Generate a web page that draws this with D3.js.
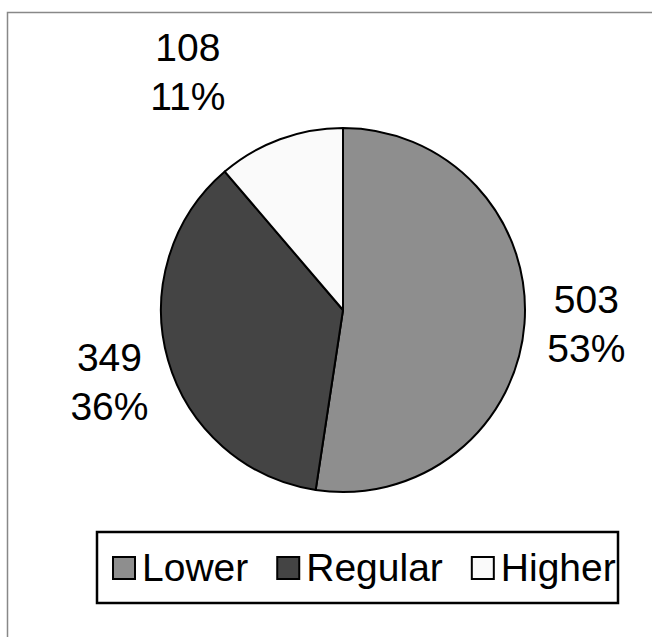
<!DOCTYPE html>
<html lang="en">
<head>
    <meta charset="UTF-8">
    <title>pie</title>
    <style>
        body { margin: 0; background: #fff; }
        svg { display: block; }
        text { font-family: "Liberation Sans", Arial, sans-serif; fill: #000; }
    </style>
    <script src="https://d3js.org/d3.v7.min.js"></script>
</head>
<body>
<script>
    // data
    var categories = ["Lower", "Regular", "Higher"];
    var counts = [503, 349, 108];
    var percents = ["53%", "36%", "11%"];
    var colours = ["#8e8e8e", "#444444", "#fafafa"];

    var W = 652, H = 637;
    var cx = 343, cy = 310, r = 182;
    var fontSize = 39;

    // label nudges away from the plain radial spot (like excel does)
    var labelRadius = 246;
    var nudge = [[-2, -5], [3, 3], [-70, -8]];

    var svg = d3.select("body").append("svg")
        .attr("width", W)
        .attr("height", H);

    // chart area frame, runs off the right and bottom
    svg.append("rect")
        .attr("x", 7.5).attr("y", 12.5)
        .attr("width", 800).attr("height", 800)
        .attr("fill", "none")
        .attr("stroke", "#888")
        .attr("stroke-width", 1.5);

    var pie = d3.pie().sort(null).value(function (d) { return d; });
    var arcs = pie(counts);

    var arc = d3.arc().innerRadius(0).outerRadius(r);
    var labelArc = d3.arc().innerRadius(labelRadius).outerRadius(labelRadius);

    var g = svg.append("g").attr("transform", "translate(" + cx + "," + cy + ")");

    g.selectAll("path")
        .data(arcs)
        .enter()
        .append("path")
        .attr("d", arc)
        .attr("fill", function (d, i) { return colours[i]; })
        .attr("stroke", "#000")
        .attr("stroke-width", 2)
        .attr("stroke-linejoin", "round");

    // value + percent labels
    var labels = g.selectAll("text.lbl")
        .data(arcs)
        .enter()
        .append("text")
        .attr("class", "lbl")
        .attr("text-anchor", "middle")
        .style("font-size", fontSize + "px")
        .attr("transform", function (d, i) {
            var c = labelArc.centroid(d);
            return "translate(" + (c[0] + nudge[i][0]) + "," + (c[1] + nudge[i][1]) + ")";
        });

    labels.append("tspan")
        .attr("x", 0).attr("y", -10)
        .text(function (d, i) { return counts[i]; });
    labels.append("tspan")
        .attr("x", 0).attr("y", 39)
        .text(function (d, i) { return percents[i]; });

    // legend
    var lx = 97, ly = 532, lw = 521, lh = 71;
    svg.append("rect")
        .attr("x", lx).attr("y", ly)
        .attr("width", lw).attr("height", lh)
        .attr("fill", "#fff")
        .attr("stroke", "#000")
        .attr("stroke-width", 2.5);

    var legend = svg.append("g");
    var x = 113, sw = 22, gap = 29;
    categories.forEach(function (name, i) {
        legend.append("rect")
            .attr("x", x).attr("y", 557)
            .attr("width", sw).attr("height", sw)
            .attr("fill", colours[i])
            .attr("stroke", "#000")
            .attr("stroke-width", 2);
        var t = legend.append("text")
            .attr("x", x + 29)
            .attr("y", 581)
            .style("font-size", fontSize + "px")
            .text(name);
        x = x + 29 + t.node().getComputedTextLength() + gap;
    });
</script>
</body>
</html>
